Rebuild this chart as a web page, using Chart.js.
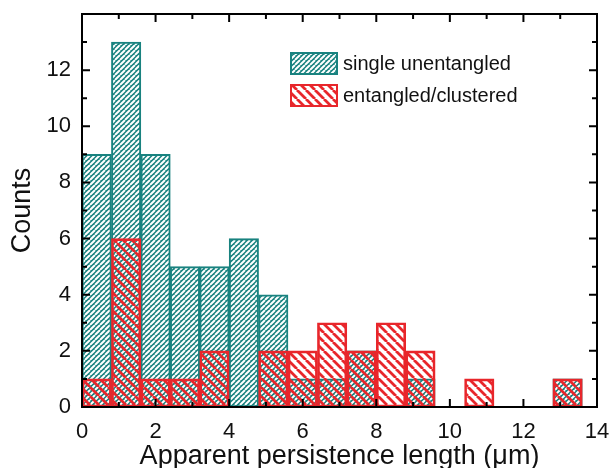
<!DOCTYPE html>
<html>
<head>
<meta charset="utf-8">
<script src="https://cdn.jsdelivr.net/npm/chart.js@4.4.1/dist/chart.umd.min.js"></script>
<style>
  html, body { margin: 0; padding: 0; background: #fff; }
  canvas { display: block; }
</style>
</head>
<body>
<canvas id="chart" width="611" height="468"></canvas>
<script>
// histogram bins, width 0.8 um
const binCenters = [0.4, 1.2, 2.0, 2.8, 3.6, 4.4, 5.2, 6.0, 6.8, 7.6, 8.4, 9.2, 10.0, 10.8, 11.6, 12.4, 13.2];
const singleCounts = [9, 13, 9, 5, 5, 6, 4, 1, 1, 2, 0, 1, 0, 0, 0, 0, 1];
const entangledCounts = [1, 6, 1, 1, 2, 0, 2, 2, 3, 2, 3, 2, 0, 1, 0, 0, 1];
const seriesNames = ['single unentangled', 'entangled/clustered'];
const xTickValues = [0, 2, 4, 6, 8, 10, 12, 14];
const yTickValues = [0, 2, 4, 6, 8, 10, 12];

const TEAL = '#18827f';
const RED = '#e8262b';
const FONT = '"Liberation Sans", Arial, sans-serif';

function hatch(size, lineColor, lineWidth, bg, forward) {
    const c = document.createElement('canvas');
    c.width = size;
    c.height = size;
    const g = c.getContext('2d');
    if (bg) {
        g.fillStyle = bg;
        g.fillRect(0, 0, size, size);
    }
    g.strokeStyle = lineColor;
    g.lineWidth = lineWidth;
    g.beginPath();
    for (let k = -1; k <= 1; k++) {
        if (forward) {
            g.moveTo(k * size, size);
            g.lineTo(k * size + size, 0);
        } else {
            g.moveTo(k * size, 0);
            g.lineTo(k * size + size, size);
        }
    }
    g.stroke();
    return g.createPattern(c, 'repeat');
}

const ctx = document.getElementById('chart').getContext('2d');
const tealFill = hatch(5, '#ffffff', 2, TEAL, true);
const redFill = hatch(9, RED, 2.8, null, false);

const toPoints = arr => arr.map((v, i) => ({ x: binCenters[i], y: v }));

// frame with inward ticks on all four sides, plus the legend inside the plot
const framePlugin = {
    id: 'frame',
    beforeDraw(chart) {
        const c = chart.ctx;
        c.save();
        c.fillStyle = '#fff';
        c.fillRect(0, 0, chart.width, chart.height);
        c.restore();
    },
    afterDatasetsDraw(chart) {
        const c = chart.ctx;
        const a = chart.chartArea;
        const xs = chart.scales.x, ys = chart.scales.y;
        c.save();
        c.strokeStyle = '#000';
        c.lineWidth = 2;
        c.beginPath();
        for (let v = 0; v <= 14; v++) {
            const len = v % 2 === 0 ? 8 : 5;
            const px = xs.getPixelForValue(v);
            c.moveTo(px, a.bottom); c.lineTo(px, a.bottom - len);
            c.moveTo(px, a.top); c.lineTo(px, a.top + len);
            const py = ys.getPixelForValue(v);
            c.moveTo(a.left, py); c.lineTo(a.left + len, py);
            c.moveTo(a.right, py); c.lineTo(a.right - len, py);
        }
        c.stroke();
        c.strokeRect(a.left, a.top, a.right - a.left, a.bottom - a.top);

        // legend
        const fills = [tealFill, redFill];
        const borders = [TEAL, RED];
        const bx = 291, by = 53, bw = 46, bh = 21, gap = 32;
        c.font = '20px ' + FONT;
        c.textBaseline = 'middle';
        c.textAlign = 'left';
        chart.data.datasets.forEach((ds, i) => {
            const y = by + i * gap;
            c.fillStyle = '#fff';
            c.fillRect(bx, y, bw, bh);
            c.fillStyle = fills[i];
            c.fillRect(bx, y, bw, bh);
            c.strokeStyle = borders[i];
            c.lineWidth = 2;
            c.strokeRect(bx, y, bw, bh);
            c.fillStyle = '#111';
            c.fillText(ds.label, bx + bw + 6, y + bh / 2 + 1);
        });
        c.restore();
    }
};

new Chart(ctx, {
    type: 'bar',
    data: {
        datasets: [
            {
                label: seriesNames[0],
                data: toPoints(singleCounts),
                backgroundColor: tealFill,
                borderColor: TEAL,
                borderWidth: 2,
                borderSkipped: false,
                order: 1, // behind
            },
            {
                label: seriesNames[1],
                data: toPoints(entangledCounts),
                backgroundColor: redFill,
                borderColor: RED,
                borderWidth: 2,
                borderSkipped: false,
                order: 0, // on top
            },
        ],
    },
    options: {
        responsive: false,
        animation: false,
        grouped: false,
        barPercentage: 1,
        categoryPercentage: 1,
        layout: {
            padding: { top: 14, right: 14, left: 0, bottom: 0 },
        },
        scales: {
            x: {
                type: 'linear',
                min: 0,
                max: 14,
                offset: false,
                grid: { display: false, drawTicks: false },
                border: { display: false },
                afterBuildTicks: s => { s.ticks = xTickValues.map(v => ({ value: v })); },
                afterFit: s => {
                    s.height = 61;
                    s.paddingLeft = 0;
                    s.paddingRight = 0;
                },
                ticks: {
                    color: '#111',
                    padding: 12,
                    maxRotation: 0,
                    font: { family: FONT, size: 22 },
                },
                title: {
                    display: true,
                    text: 'Apparent persistence length (μm)',
                    color: '#111',
                    padding: { top: 0, bottom: -2 },
                    font: { family: FONT, size: 27, lineHeight: 1 },
                },
            },
            y: {
                min: 0,
                max: 14,
                grid: { display: false, drawTicks: false },
                border: { display: false },
                afterBuildTicks: s => { s.ticks = yTickValues.map(v => ({ value: v })); },
                afterFit: s => {
                    s.width = 82;
                    s.paddingTop = 0;
                    s.paddingBottom = 0;
                },
                ticks: {
                    color: '#111',
                    padding: 11,
                    font: { family: FONT, size: 22 },
                },
                title: {
                    display: true,
                    text: 'Counts',
                    color: '#111',
                    padding: { top: 9, bottom: 0 },
                    font: { family: FONT, size: 27, lineHeight: 1 },
                },
            },
        },
        plugins: {
            legend: { display: false },
            tooltip: { enabled: false },
        },
    },
    plugins: [framePlugin],
});
</script>
</body>
</html>
